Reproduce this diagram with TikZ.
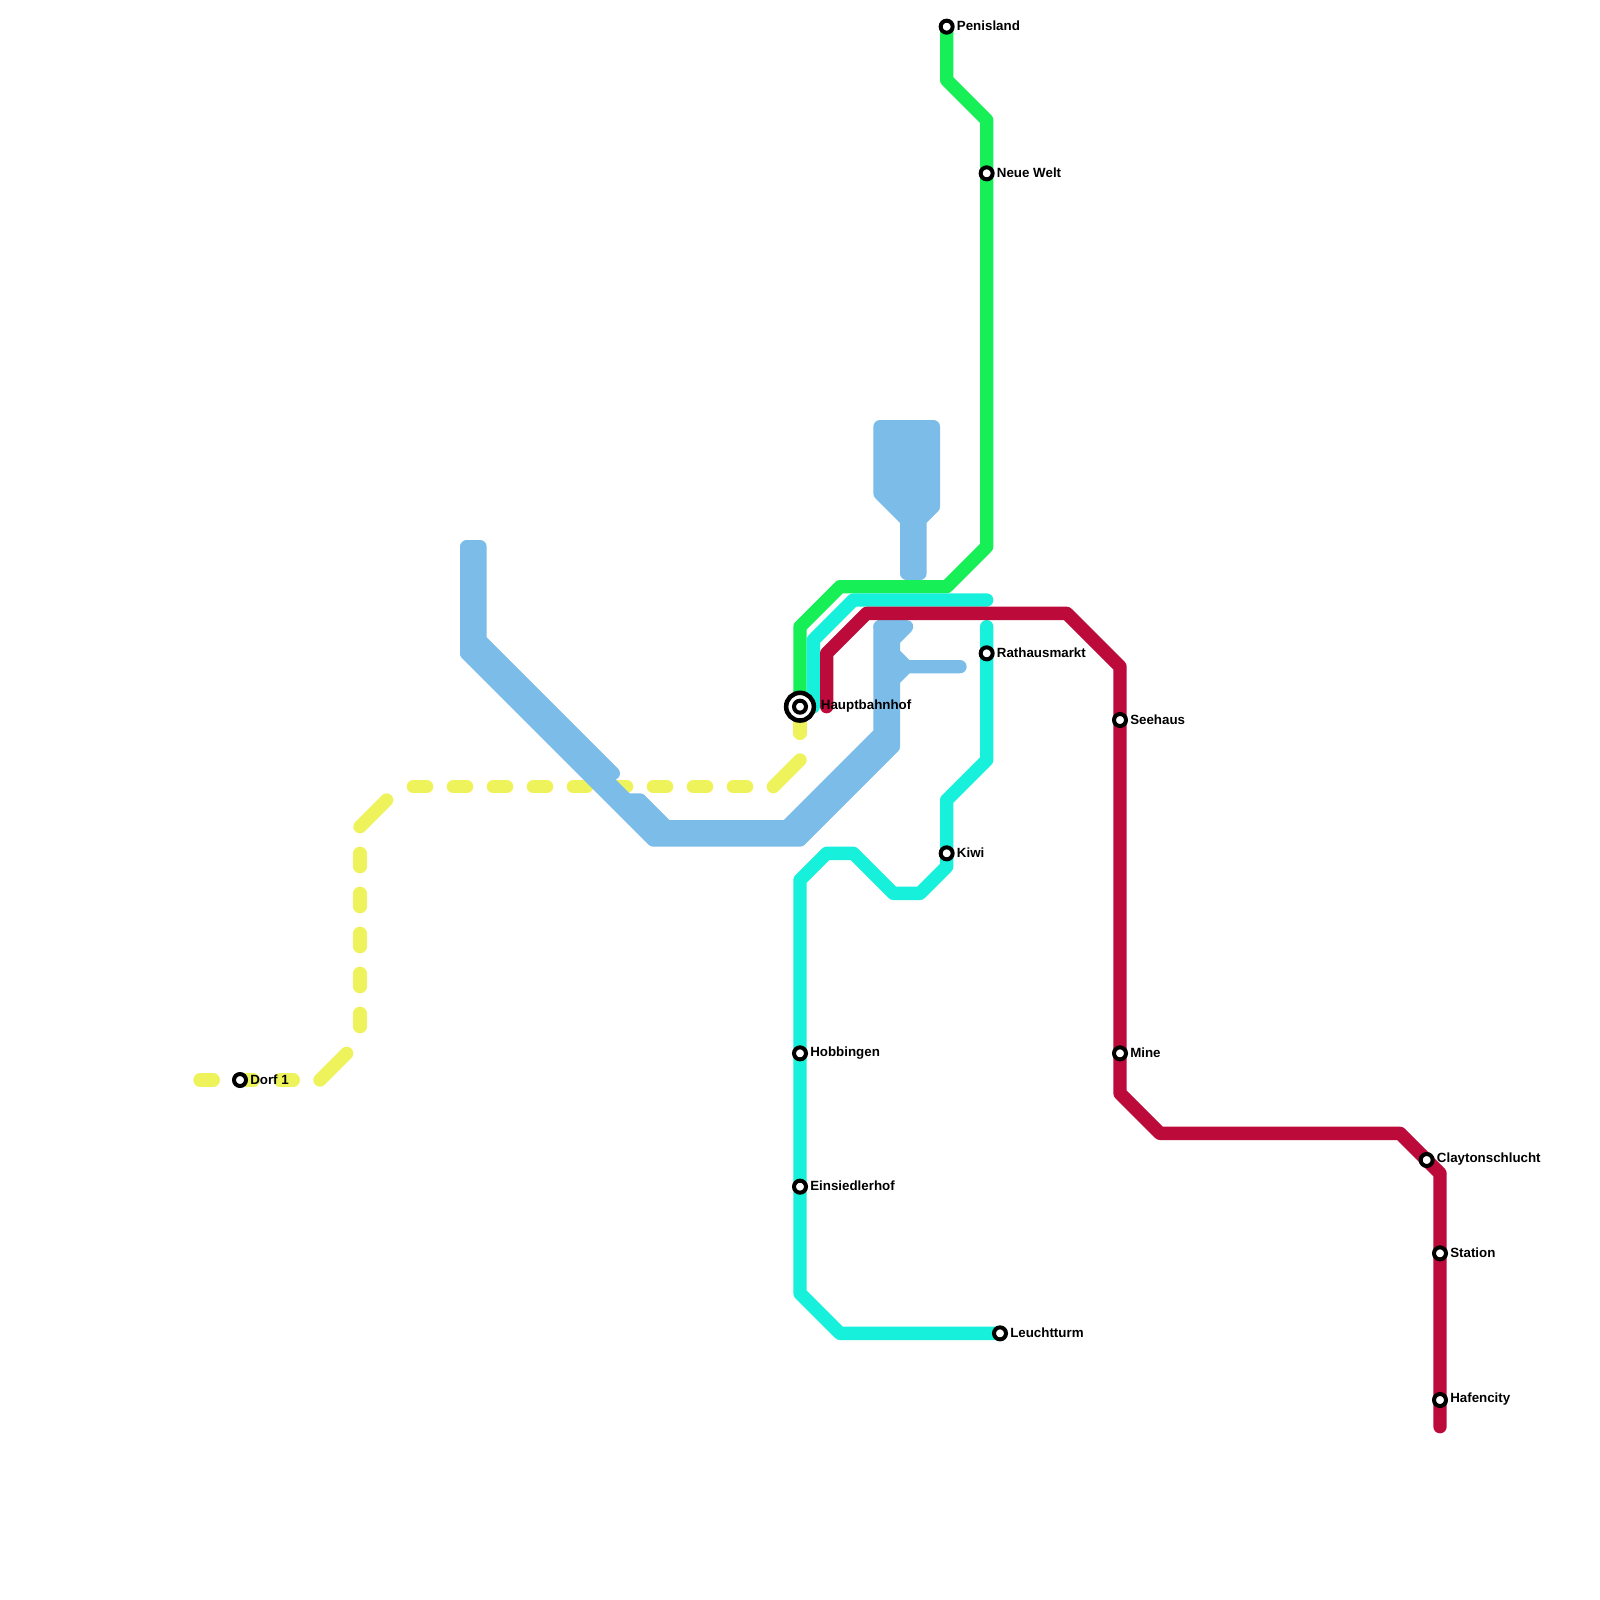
\documentclass[tikz,border=0pt]{standalone}
\usepackage{fontspec}
\setmainfont{Liberation Sans}
\definecolor{lblue}{HTML}{7BBCE8}
\definecolor{lgreen}{HTML}{17EF57}
\definecolor{lcyan}{HTML}{17F0DB}
\definecolor{lred}{HTML}{BC0A3A}
\definecolor{lyellow}{HTML}{EEF35C}
\tikzset{
  metro/.style={line width=10pt,line cap=round,line join=round},
  blueline/.style={metro,draw=lblue},
  blueblock/.style={metro,draw=lblue,fill=lblue},
  greenline/.style={metro,draw=lgreen,line cap=butt},
  cyanline/.style={metro,draw=lcyan},
  redline/.style={metro,draw=lred},
  yellowsolid/.style={metro,draw=lyellow},
  yellowdash/.style={metro,draw=lyellow,dash pattern=on 10pt off 20pt},
  stop/.style={circle,draw=black,fill=white,line width=3pt,minimum size=9pt,inner sep=0pt},
  hubring/.style={circle,draw=black,fill=white,line width=3.4pt,minimum size=20.8pt,inner sep=0pt},
  stoplabel/.style={anchor=west,inner sep=0pt,font=\bfseries\fontsize{10pt}{12pt}\selectfont,text=black},
}
\begin{document}
\begin{tikzpicture}[x=10pt,y=-10pt]
\useasboundingbox[fill=white] (0,0) rectangle (120,120);
% station positions
\coordinate (penisland) at (71,2);
\coordinate (neuewelt) at (74,13);
\coordinate (rathaus) at (74,49);
\coordinate (hbf) at (60,53);
\coordinate (seehaus) at (84,54);
\coordinate (mine) at (84,79);
\coordinate (kiwi) at (71,64);
\coordinate (hobbingen) at (60,79);
\coordinate (einsiedler) at (60,89);
\coordinate (leuchtturm) at (75,100);
\coordinate (dorf) at (18,81);
\coordinate (clayton) at (107,87);
\coordinate (station) at (108,94);
\coordinate (hafencity) at (108,105);
% free line ends
\coordinate (yw) at (15,81);
\coordinate (redend) at (108,107);
\coordinate (redstart) at (62,53);
\coordinate (cyanstart) at (61,53);
\coordinate (cyanend) at (74,45);
\coordinate (cyantop) at (74,47);
% yellow line
\draw[yellowdash] (yw) -- (22,81);
\draw[yellowsolid] (24,81) -- (26,79);
\draw[yellowdash] (27,77) -- (27,64);
\draw[yellowsolid] (27,62) -- (29,60);
\draw[yellowdash] (31,59) -- (56,59);
\draw[yellowsolid] (58,59) -- (60,57);
\draw[yellowsolid] (60,55) -- (hbf);
% blue bundle
\draw[blueblock] (35,41) -- (36,41) -- (36,48) -- (35,49) -- cycle;
\draw[blueline] (35,49) -- (49,63) -- (60,63) -- (67,56) -- (67,47);
\draw[blueline] (35.5,48.5) -- (49.5,62.5) -- (59.5,62.5) -- (66.5,55.5) -- (66.5,47);
\draw[blueline] (36,48) -- (46,58);
\draw[blueline] (47,60) -- (48,60) -- (50,62) -- (59,62) -- (66,55) -- (66,47);
\draw[blueline] (66,47) -- (68,47) -- (67,48);
\draw[blueline] (67,49) -- (68,50) -- (72,50);
\draw[blueline] (67,51) -- (68,50);
\draw[blueblock] (66,32) -- (70,32) -- (70,38) -- (69,39) -- (69,43) -- (68,43) -- (68,39) -- (66,37) -- cycle;
% green line
\draw[greenline] (penisland) -- (71,6) -- (74,9) -- (neuewelt) -- (74,41) -- (71,44) -- (63,44) -- (60,47) -- (hbf);
% cyan lines
\draw[cyanline] (cyanend) -- (64,45) -- (61,48) -- (cyanstart);
\draw[cyanline] (cyantop) -- (rathaus) -- (74,57) -- (71,60) -- (kiwi) -- (71,65) -- (69,67) -- (67,67) -- (64,64) -- (62,64) -- (60,66) -- (hobbingen) -- (einsiedler) -- (60,97) -- (63,100) -- (leuchtturm);
% red line
\draw[redline] (redstart) -- (62,49) -- (65,46) -- (80,46) -- (84,50) -- (seehaus) -- (mine) -- (84,82) -- (87,85) -- (105,85) -- (108,88) -- (station) -- (hafencity) -- (redend);
% stations
\node[stop] (s1) at (penisland) {};
\node[stop] (s2) at (neuewelt) {};
\node[stop] (s3) at (rathaus) {};
\node[hubring] (s4o) at (hbf) {};
\node[stop] (s4) at (hbf) {};
\node[stop] (s5) at (seehaus) {};
\node[stop] (s6) at (mine) {};
\node[stop] (s7) at (kiwi) {};
\node[stop] (s8) at (hobbingen) {};
\node[stop] (s9) at (einsiedler) {};
\node[stop] (s10) at (leuchtturm) {};
\node[stop] (s11) at (dorf) {};
\node[stop] (s12) at (clayton) {};
\node[stop] (s13) at (station) {};
\node[stop] (s14) at (hafencity) {};
% labels
\node[stoplabel] (l1) at ([xshift=7.5pt,yshift=0.5pt]penisland) {Penisland};
\node[stoplabel] (l2) at ([xshift=7.5pt,yshift=0.5pt]neuewelt) {Neue Welt};
\node[stoplabel] (l3) at ([xshift=7.5pt,yshift=0.5pt]rathaus) {Rathausmarkt};
\node[stoplabel] (l4) at ([xshift=15.5pt,yshift=0.5pt]hbf) {Hauptbahnhof};
\node[stoplabel] (l5) at ([xshift=7.5pt,yshift=0.5pt]seehaus) {Seehaus};
\node[stoplabel] (l6) at ([xshift=7.5pt,yshift=0.5pt]mine) {Mine};
\node[stoplabel] (l7) at ([xshift=7.5pt,yshift=0.5pt]kiwi) {Kiwi};
\node[stoplabel] (l8) at ([xshift=7.5pt,yshift=0.5pt]hobbingen) {Hobbingen};
\node[stoplabel] (l9) at ([xshift=7.5pt,yshift=0.5pt]einsiedler) {Einsiedlerhof};
\node[stoplabel] (l10) at ([xshift=7.5pt,yshift=0.5pt]leuchtturm) {Leuchtturm};
\node[stoplabel] (l11) at ([xshift=7.5pt,yshift=0.5pt]dorf) {Dorf 1};
\node[stoplabel] (l12) at ([xshift=7.5pt,yshift=0.5pt]clayton) {Claytonschlucht};
\node[stoplabel] (l13) at ([xshift=7.5pt,yshift=0.5pt]station) {Station};
\node[stoplabel] (l14) at ([xshift=7.5pt,yshift=0.5pt]hafencity) {Hafencity};
\end{tikzpicture}
\end{document}
